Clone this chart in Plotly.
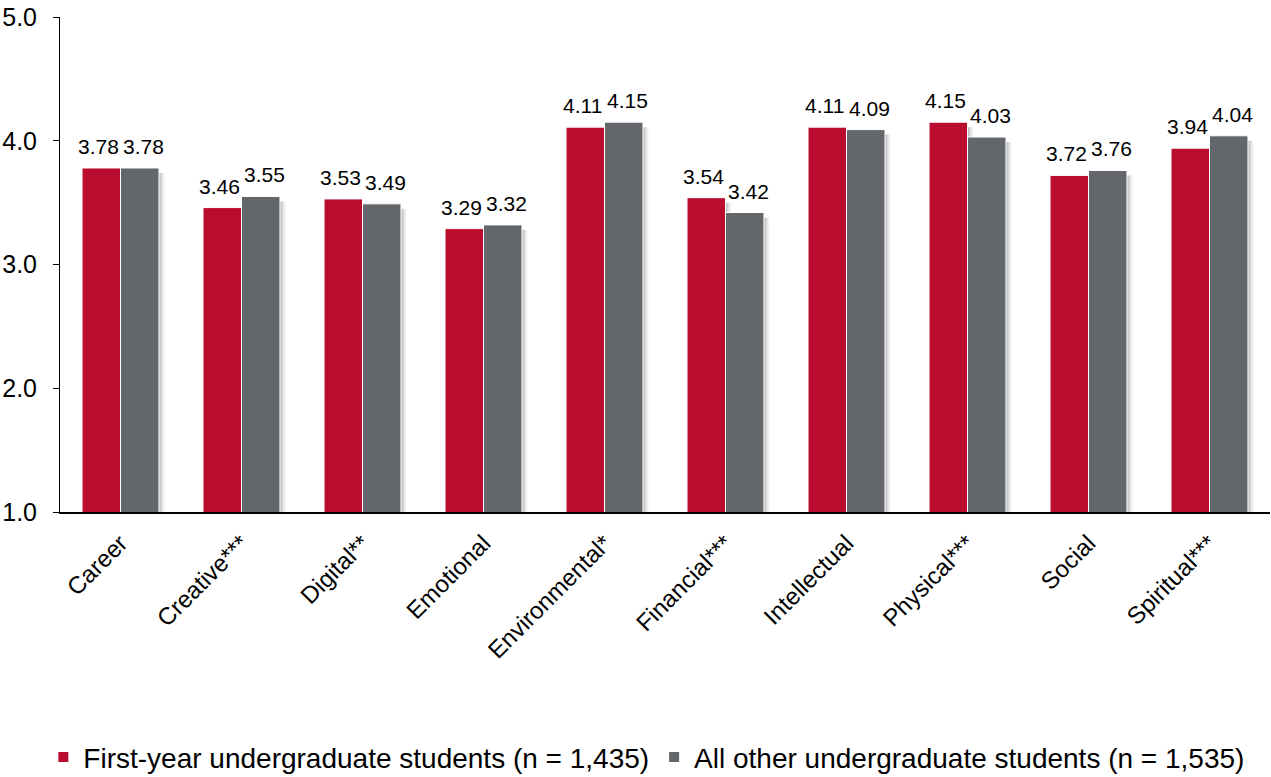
import plotly.graph_objects as go

categories = ["Career", "Creative***", "Digital**", "Emotional", "Environmental*",
              "Financial***", "Intellectual", "Physical***", "Social", "Spiritual***"]
first_year = [3.78, 3.46, 3.53, 3.29, 4.11, 3.54, 4.11, 4.15, 3.72, 3.94]
all_other = [3.78, 3.55, 3.49, 3.32, 4.15, 3.42, 4.09, 4.03, 3.76, 4.04]
series_names = ["First-year undergraduate students (n = 1,435)",
                "All other undergraduate students (n = 1,535)"]
y_ticks = [1.0, 2.0, 3.0, 4.0, 5.0]

RED = "#BA0C2F"
GRAY = "#63666A"
FONT = "Liberation Sans, Arial, sans-serif"
BW = 0.318        # bar width in category units
LABEL_SHIFT = 22.5  # px shift of value labels from group centre

fig = go.Figure()

# soft drop shadows (behind bars)
for vals, off in [(first_year, -BW), (all_other, 0.0)]:
    for k, alpha in enumerate([0.10, 0.08, 0.06, 0.04]):
        fig.add_trace(go.Bar(
            x=categories, y=[v - 0.04 for v in vals], offset=off + 0.012 + 0.012 * k, width=BW,
            marker=dict(color=f"rgba(0,0,0,{alpha})", line=dict(width=0)),
            showlegend=False, hoverinfo="skip",
        ))

for vals, name, col, off, shift in [(first_year, series_names[0], RED, -BW, -LABEL_SHIFT),
                                    (all_other, series_names[1], GRAY, 0.0, LABEL_SHIFT)]:
    fig.add_trace(go.Bar(
        x=categories, y=vals, name=name, offset=off, width=BW,
        marker=dict(color=col, line=dict(color="white", width=1)),
        hoverinfo="x+y+name",
    ))
    for c, v in zip(categories, vals):
        fig.add_annotation(x=c, y=v, text=f"{v:.2f}", showarrow=False,
                           xanchor="center", yanchor="bottom", xshift=shift, yshift=8,
                           font=dict(size=21, color="black", family=FONT))

fig.update_layout(
    width=1271, height=777,
    paper_bgcolor="white", plot_bgcolor="white",
    margin=dict(l=60, r=1, t=17, b=265, autoexpand=False),
    barmode="overlay",
    font=dict(family=FONT, size=22, color="black"),
    showlegend=True,
    legend=dict(orientation="h", x=0.485, xanchor="center",
                y=-0.445, yanchor="top",
                font=dict(size=28, family=FONT), itemwidth=30, traceorder="normal",
                itemsizing="constant"),
)
fig.update_yaxes(range=[1.0, 5.0], tickvals=y_ticks, ticktext=[f"{t:.1f}" for t in y_ticks],
                 showgrid=False, showline=True, linecolor="black", linewidth=1,
                 ticks="outside", ticklen=6, tickcolor="black", ticklabelstandoff=11,
                 tickfont=dict(size=25, family=FONT), zeroline=False, automargin=False)
fig.update_xaxes(showgrid=False, showline=True, linecolor="black", linewidth=1.5,
                 ticks="", tickangle=-45, tickfont=dict(size=24, family=FONT),
                 automargin=False, ticklabelstandoff=6)

fig.write_html("out.html", config={"displayModeBar": False},
               post_script="document.body.style.margin='0';document.body.style.overflow='hidden';")
